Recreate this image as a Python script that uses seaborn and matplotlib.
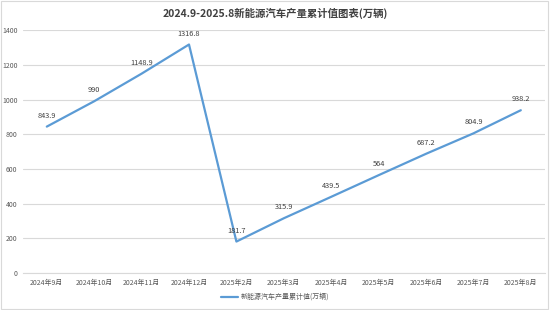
import matplotlib
matplotlib.use("Agg")
import matplotlib.pyplot as plt
import seaborn as sns
import pandas as pd
from matplotlib.patches import Rectangle

months = ["2024年9月", "2024年10月", "2024年11月", "2024年12月", "2025年2月", "2025年3月",
          "2025年4月", "2025年5月", "2025年6月", "2025年7月", "2025年8月"]
values = [843.9, 990, 1148.9, 1316.8, 181.7, 315.9, 439.5, 564, 687.2, 804.9, 938.2]
labels = ["843.9", "990", "1148.9", "1316.8", "181.7", "315.9", "439.5", "564", "687.2", "804.9", "938.2"]
series_name = "新能源汽车产量累计值(万辆)"
title = "2024.9-2025.8新能源汽车产量累计值图表(万辆)"

sns.set_theme(style="white")
plt.rcParams['font.family'] = ['Noto Sans CJK SC', 'DejaVu Sans']

df = pd.DataFrame({"month": months, "value": values, "pos": range(len(months))})

fig = plt.figure(figsize=(5.5, 3.1), dpi=100)
ax = fig.add_axes([0.042, 0.119, 0.948, 0.784])

sns.lineplot(data=df, x="pos", y="value", ax=ax, color="#5b9bd5", linewidth=1.6,
             label=series_name, legend=False)

for x, y, t in zip(df["pos"], df["value"], labels):
    ax.annotate(t, (x, y), xytext=(0, 5), textcoords="offset points",
                ha="center", va="bottom", fontsize=5.3, color="#404040")

ax.set_xlim(-0.5, len(months) - 0.5)
ax.set_ylim(0, 1400)
ax.set_yticks(range(0, 1401, 200))
ax.set_xticks(range(len(months)))
ax.set_xticklabels(months)
ax.tick_params(axis="both", labelsize=5, colors="#595959", length=0, pad=4)
ax.yaxis.grid(True, color="#d9d9d9", linewidth=0.8)
ax.set_axisbelow(True)
for s in ["top", "right", "left"]:
    ax.spines[s].set_visible(False)
ax.spines["bottom"].set_color("#d9d9d9")
ax.spines["bottom"].set_linewidth(0.8)
ax.set_xlabel("")
ax.set_ylabel("")

fig.suptitle(title, x=0.5, y=0.975, fontsize=7.5, fontweight="bold", color="#404040")

handles, hlabels = ax.get_legend_handles_labels()
fig.legend(handles, hlabels, loc="center", bbox_to_anchor=(0.5, 0.042), frameon=False,
           fontsize=5, labelcolor="#595959", handlelength=2.5, handletextpad=0.3)

fig.patches.append(Rectangle((0.002, 0.003), 0.995, 0.993, transform=fig.transFigure,
                             fill=False, edgecolor="#d9d9d9", linewidth=0.8))

fig.savefig("out.png", dpi=100)
